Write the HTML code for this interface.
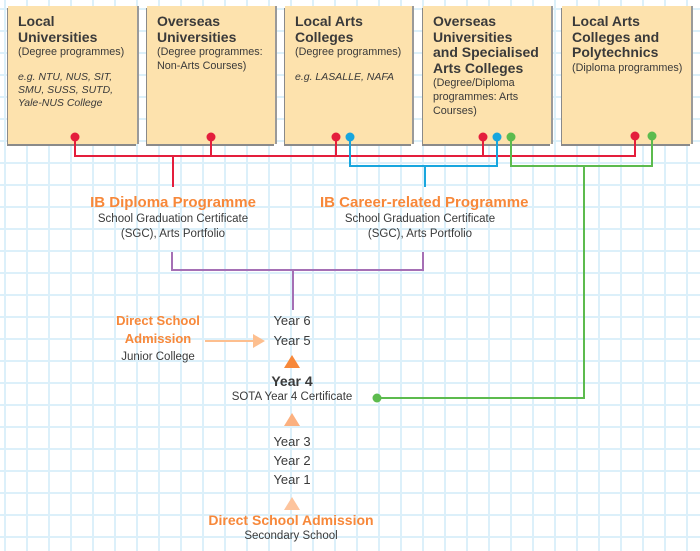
<!DOCTYPE html>
<html><head><meta charset="utf-8"><style>
body{margin:0;width:700px;height:551px;overflow:hidden;font-family:"Liberation Sans",sans-serif;color:#3a3a3a;
background-color:#fff;
background-image:linear-gradient(#dcf0fa 2px,transparent 2px),linear-gradient(90deg,#dcf0fa 2px,transparent 2px);
background-size:22px 22px;background-position:4px 8px;}
.box{position:absolute;top:6px;height:138px;background:#fde2ad;box-shadow:2px 0 0 #9a9a9a, -1px 2px 0 #8a8a8a;padding:8px 4px 8px 10px;box-sizing:border-box;white-space:nowrap}
.box h{display:block;font-weight:bold;font-size:14px;line-height:15.5px;color:#3a3a3a}
.box p{margin:0;font-size:10.8px;line-height:14px}
.box i{display:block;font-size:10.5px;line-height:13px;margin-top:12px}
.t{position:absolute;text-align:center;white-space:nowrap}
.o{color:#f7883a;font-weight:bold}
.y{font-size:13px}
</style></head><body>
<div class="box" style="left:8px;width:129px"><h>Local<br>Universities</h><p>(Degree programmes)</p><i>e.g. NTU, NUS, SIT,<br>SMU, SUSS, SUTD,<br>Yale-NUS College</i></div>
<div class="box" style="left:147px;width:128px"><h>Overseas<br>Universities</h><p>(Degree programmes:<br>Non-Arts Courses)</p></div>
<div class="box" style="left:285px;width:127px"><h>Local Arts<br>Colleges</h><p>(Degree programmes)</p><i>e.g. LASALLE, NAFA</i></div>
<div class="box" style="left:423px;width:128px"><h>Overseas<br>Universities<br>and Specialised<br>Arts Colleges</h><p>(Degree/Diploma<br>programmes: Arts<br>Courses)</p></div>
<div class="box" style="left:562px;width:129px"><h>Local Arts<br>Colleges and<br>Polytechnics</h><p>(Diploma programmes)</p></div>
<svg width="700" height="551" style="position:absolute;left:0;top:0">
<g fill="none" stroke-width="2">
<path d="M75 137V156H635V137M211 137V156M336 137V156M483 137V156M173 156V187" stroke="#e41e3c"/>
<path d="M350 137V166H497V137M425 166V187" stroke="#18a6de"/>
<path d="M511 137V166H652V137M584 166V398H377" stroke="#5cbb4e"/>
<path d="M172 252V270H423V252M293 270V310" stroke="#a56fb5"/>
<path d="M205 341H255" stroke="#fdbf8f"/>
</g>
<g fill="#e41e3c"><circle cx="75" cy="137" r="4.5"/><circle cx="211" cy="137" r="4.5"/><circle cx="336" cy="137" r="4.5"/><circle cx="483" cy="137" r="4.5"/><circle cx="635" cy="136" r="4.5"/></g>
<g fill="#18a6de"><circle cx="350" cy="137" r="4.5"/><circle cx="497" cy="137" r="4.5"/></g>
<g fill="#5cbb4e"><circle cx="511" cy="137" r="4.5"/><circle cx="652" cy="136" r="4.5"/><circle cx="377" cy="398" r="4.5"/></g>
<polygon points="253,334 265,341 253,348" fill="#fdbf8f"/>
<polygon points="284,368 300,368 292,355" fill="#f7883a"/>
<polygon points="284,426 300,426 292,413" fill="#fbb07f"/>
<polygon points="284,510 300,510 292,497" fill="#fdc49d"/>
</svg>
<div class="t" style="left:73px;width:200px;top:194px"><div class="o" style="font-size:15px;line-height:18px">IB Diploma Programme</div><div style="font-size:11.5px;line-height:15px">School Graduation Certificate<br>(SGC), Arts Portfolio</div></div>
<div class="t" style="left:320px;width:200px;top:194px"><div class="o" style="font-size:15px;line-height:18px">IB Career-related Programme</div><div style="font-size:11.5px;line-height:15px">School Graduation Certificate<br>(SGC), Arts Portfolio</div></div>
<div class="t" style="left:100px;width:116px;top:312px"><div class="o" style="font-size:13px;line-height:18px">Direct School<br>Admission</div><div style="font-size:11.5px;line-height:18px">Junior College</div></div>
<div class="t y" style="left:242px;width:100px;top:311px;line-height:20px">Year 6<br>Year 5</div>
<div class="t" style="left:222px;width:140px;top:373px"><div style="font-weight:bold;font-size:14px;line-height:17px">Year 4</div><div style="font-size:11.5px;line-height:15px">SOTA Year 4 Certificate</div></div>
<div class="t y" style="left:242px;width:100px;top:432px;line-height:19px">Year 3<br>Year 2<br>Year 1</div>
<div class="t" style="left:191px;width:200px;top:511px"><div class="o" style="font-size:14px;line-height:18px">Direct School Admission</div><div style="font-size:11.5px;line-height:14px">Secondary School</div></div>
</body></html>
